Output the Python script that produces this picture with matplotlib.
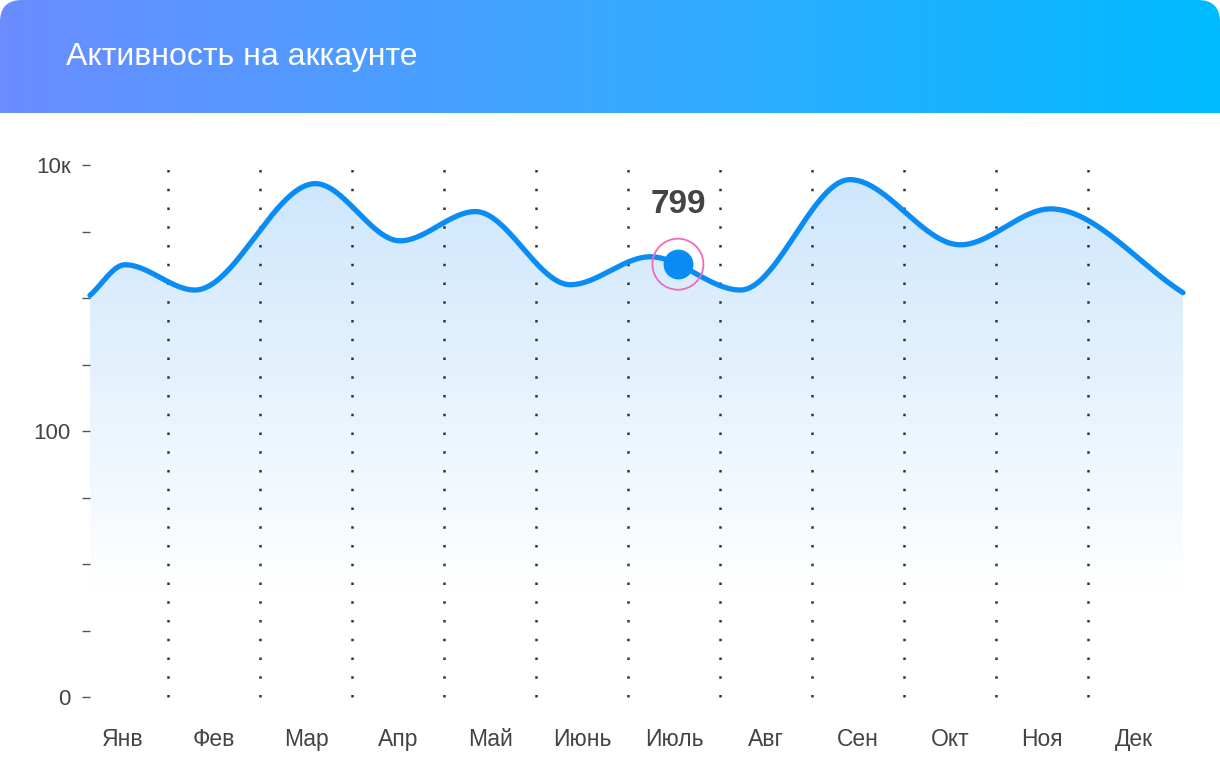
import numpy as np
import matplotlib
matplotlib.use("Agg")
import matplotlib.pyplot as plt
from matplotlib.patches import FancyBboxPatch, Polygon
from matplotlib.colors import LinearSegmentedColormap

plt.rcParams['font.family'] = ['Liberation Sans', 'DejaVu Sans']

months = ["Янв", "Фев", "Мар", "Апр", "Май", "Июнь", "Июль", "Авг", "Сен", "Окт", "Ноя", "Дек"]
# knot positions (month units) and log10 activity values
knot_x = [0.15, 0.53, 1.29, 2.60, 3.52, 4.34, 5.37, 6.24, 7.22, 8.41, 9.61, 10.59, 12.03]
knot_log = [3.02, 3.25, 3.06, 3.86, 3.43, 3.65, 3.10, 3.31, 3.06, 3.89, 3.40, 3.67, 3.04]
marker_x = 6.54
marker_label = "799"
ytick_vals = [1, 100, 10000]
ytick_labels = ["0", "100", "10к"]

def pchip(x, y, xs):
    x = np.asarray(x, float); y = np.asarray(y, float)
    h = np.diff(x); d = np.diff(y) / h
    m = np.zeros_like(y)
    for k in range(1, len(x) - 1):
        if d[k-1] * d[k] > 0:
            w1 = 2*h[k] + h[k-1]; w2 = h[k] + 2*h[k-1]
            m[k] = (w1 + w2) / (w1/d[k-1] + w2/d[k])
    m[0] = d[0]; m[-1] = d[-1]
    out = np.empty_like(xs)
    for i, xv in enumerate(xs):
        k = min(max(np.searchsorted(x, xv) - 1, 0), len(x) - 2)
        t = (xv - x[k]) / h[k]
        h00 = 2*t**3 - 3*t**2 + 1; h10 = t**3 - 2*t**2 + t
        h01 = -2*t**3 + 3*t**2; h11 = t**3 - t**2
        out[i] = h00*y[k] + h10*h[k]*m[k] + h01*y[k+1] + h11*h[k]*m[k+1]
    return out

W, H = 1220, 784
fig = plt.figure(figsize=(W/100, H/100), dpi=100)
bg = fig.add_axes([0, 0, 1, 1]); bg.set_xlim(0, W); bg.set_ylim(H, 0); bg.axis('off')
grad = np.linspace(0, 1, 256)[None, :]
hcmap = LinearSegmentedColormap.from_list('h', ['#6a8cff', '#3aa8ff', '#00bbff'])
clipbox = FancyBboxPatch((0, 0), W, 140, boxstyle="round,pad=0,rounding_size=22",
                         transform=bg.transData, facecolor='none', edgecolor='none')
bg.add_patch(clipbox)
im = bg.imshow(grad, cmap=hcmap, extent=[0, W, 113, 0], aspect='auto')
im.set_clip_path(clipbox)
bg.text(66, 57, "Активность на аккаунте", color='white', fontsize=23, va='center', ha='left')

L, R, T, B = 90, 1183, 165, 697
ax = fig.add_axes([L/W, 1-B/H, (R-L)/W, (B-T)/H])
ax.set_xlim(0.15, 12.03)
ax.set_yscale('log'); ax.set_ylim(1, 10000)
for s in ax.spines.values(): s.set_visible(False)
ax.set_facecolor('none')

xs = np.linspace(knot_x[0], knot_x[-1], 800)
ys = 10**pchip(knot_x, knot_log, xs)

fcmap = LinearSegmentedColormap.from_list('f', [(1, 1, 1, 1), (0.80, 0.90, 0.99, 1)])
vg = np.linspace(0, 1, 256)[:, None]
vg = np.clip((vg - 0.2) / 0.8, 0, 1)
ax2 = fig.add_axes(ax.get_position(), zorder=-1)
ax2.set_xlim(0.15, 12.03); ax2.set_ylim(0, 4); ax2.axis('off')
fim = ax2.imshow(vg, cmap=fcmap, extent=[0.15, 12.03, 0, 4], aspect='auto', origin='lower')
poly = Polygon(np.column_stack([np.r_[xs, xs[-1], xs[0]], np.r_[np.log10(ys), 0, 0]]), closed=True,
               transform=ax2.transData, facecolor='none', edgecolor='none')
ax2.add_patch(poly); fim.set_clip_path(poly)

for k in range(1, 12):
    ax.plot([k, k], [1.0, 10300], color='#333333', lw=1.8, ls=(0, (1, 6.5)), zorder=2, clip_on=False)

ax.plot(xs, ys, color='#0a8cf5', lw=3.8, zorder=4, solid_capstyle='round', clip_on=False)
my = 10**pchip(knot_x, knot_log, np.array([marker_x]))[0]
ax.scatter([marker_x], [my], s=1350, facecolor='none', edgecolor='#f06bb8', lw=1.3, zorder=5, clip_on=False)
ax.scatter([marker_x], [my], s=420, color='#0a8cf5', zorder=6, clip_on=False)
ax.annotate(marker_label, (marker_x, my), xytext=(0, 43), textcoords='offset points', ha='center',
            va='center', fontsize=24, fontweight='bold', color='#444444')

ax.set_yticks(ytick_vals); ax.set_yticklabels(ytick_labels)
ax.set_yticks([10**(k/2) for k in range(9)], minor=True)
ax.yaxis.set_minor_formatter(plt.NullFormatter())
ax.tick_params(axis='y', which='both', length=6, width=1, color='#555555', pad=8, labelsize=16, labelcolor='#444444')
ax.set_xticks(np.arange(12) + 0.5); ax.set_xticklabels(months)
ax.tick_params(axis='x', length=0, pad=22, labelsize=16.5, labelcolor='#444444')

fig.savefig('out.png', dpi=100, facecolor='white')
